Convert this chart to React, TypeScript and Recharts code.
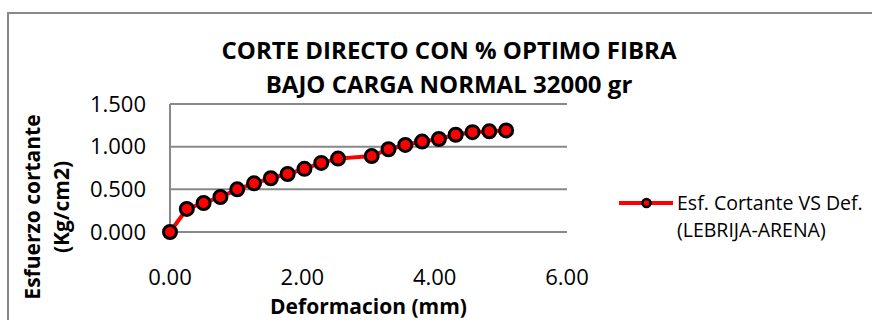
import React from 'react';
import { LineChart, Line, XAxis, YAxis, CartesianGrid, Legend } from 'recharts';

const deformacion = [0, 0.254, 0.508, 0.762, 1.016, 1.27, 1.524, 1.778, 2.032, 2.286, 2.54, 3.048, 3.302, 3.556, 3.81, 4.064, 4.318, 4.572, 4.826, 5.08];
const esfuerzo = [0, 0.27, 0.34, 0.41, 0.5, 0.57, 0.63, 0.68, 0.74, 0.81, 0.86, 0.89, 0.97, 1.02, 1.06, 1.09, 1.14, 1.17, 1.18, 1.19];
const xTicks = [0, 2, 4, 6];
const yTicks = [0, 0.5, 1, 1.5];
const titleLines = ['CORTE DIRECTO CON % OPTIMO FIBRA', 'BAJO CARGA NORMAL 32000 gr'];
const seriesLines = ['Esf. Cortante VS Def.', '(LEBRIJA-ARENA)'];
const xTitle = 'Deformacion (mm)';
const yTitleLines = ['Esfuerzo cortante', '(Kg/cm2)'];

const data = deformacion.map((x, i) => ({ x, y: esfuerzo[i] }));

const FONT = "'Open Sans', sans-serif";
const GRID = '#898989';

const LegendContent = () => (
  <div style={{ display: 'flex', alignItems: 'flex-start', fontFamily: FONT }}>
    <svg width={62} height={27} style={{ display: 'block' }}>
      <line x1={4} y1={14} x2={58} y2={14} stroke="#ff0000" strokeWidth={4} />
      <circle cx={31.5} cy={14} r={4} fill="#ff0000" stroke="#000" strokeWidth={2.5} />
    </svg>
    <div style={{ fontSize: 19.5, lineHeight: '27px', color: '#000', whiteSpace: 'nowrap' }}>
      {seriesLines.map((l) => (
        <div key={l}>{l}</div>
      ))}
    </div>
  </div>
);

export default function App() {
  return (
    <div style={{ position: 'absolute', left: 0, top: 0, width: 872, height: 320, overflow: 'hidden', background: '#fff' }}>
      <div
        style={{
          position: 'absolute',
          left: 7,
          top: 12,
          width: 1000,
          height: 1000,
          border: `2px solid ${GRID}`,
          boxSizing: 'border-box',
        }}
      />
      <div
        style={{
          position: 'absolute',
          left: 0,
          width: 898,
          top: 33,
          textAlign: 'center',
          fontFamily: FONT,
          fontWeight: 700,
          fontSize: 24,
          lineHeight: '34px',
          color: '#000',
          whiteSpace: 'nowrap',
        }}
      >
        {titleLines.map((l) => (
          <div key={l}>{l}</div>
        ))}
      </div>
      <div style={{ position: 'absolute', left: 0, top: 0 }}>
        <LineChart width={872} height={320} data={data} margin={{ top: 104, right: 305, bottom: 58, left: 90 }}>
          <CartesianGrid vertical={false} stroke={GRID} strokeWidth={2} />
          <XAxis
            type="number"
            dataKey="x"
            domain={[0, 6]}
            ticks={xTicks}
            tickFormatter={(v: number) => v.toFixed(2)}
            tick={{ fill: '#000', fontSize: 22, fontFamily: FONT }}
            tickLine={false}
            tickSize={0}
            tickMargin={37}
            height={30}
            axisLine={{ stroke: GRID, strokeWidth: 2 }}
            label={(props: any) => {
              const vb = props.viewBox || { x: 170, y: 232, width: 397, height: 30 };
              return (
                <text
                  x={vb.x + vb.width / 2}
                  y={vb.y + 82}
                  textAnchor="middle"
                  fontFamily={FONT}
                  fontWeight={700}
                  fontSize={21}
                  fill="#000"
                >
                  {xTitle}
                </text>
              );
            }}
          />
          <YAxis
            type="number"
            domain={[0, 1.5]}
            ticks={yTicks}
            tickFormatter={(v: number) => v.toFixed(3)}
            tick={{ fill: '#000', fontSize: 22, fontFamily: FONT }}
            tickLine={false}
            tickSize={0}
            tickMargin={24}
            width={80}
            axisLine={{ stroke: GRID, strokeWidth: 2 }}
            label={() => (
              <g>
                <text
                  x={40}
                  y={207}
                  transform="rotate(-90 40 207)"
                  textAnchor="middle"
                  fontFamily={FONT}
                  fontWeight={700}
                  fontSize={21}
                  fill="#000"
                >
                  {yTitleLines[0]}
                </text>
                <text
                  x={69}
                  y={207}
                  transform="rotate(-90 69 207)"
                  textAnchor="middle"
                  fontFamily={FONT}
                  fontWeight={700}
                  fontSize={21}
                  fill="#000"
                >
                  {yTitleLines[1]}
                </text>
              </g>
            )}
          />
          <Legend
            layout="vertical"
            align="center"
            verticalAlign="middle"
            content={() => <LegendContent />}
            wrapperStyle={{ position: 'absolute', left: 615, top: 189, width: 257, height: 60 }}
          />
          <Line
            type="linear"
            dataKey="y"
            name={seriesLines.join(' ')}
            stroke="#ff0000"
            strokeWidth={4}
            dot={{ r: 6.5, fill: '#ff0000', stroke: '#000', strokeWidth: 3 }}
            activeDot={false}
            isAnimationActive={false}
          />
        </LineChart>
      </div>
    </div>
  );
}
